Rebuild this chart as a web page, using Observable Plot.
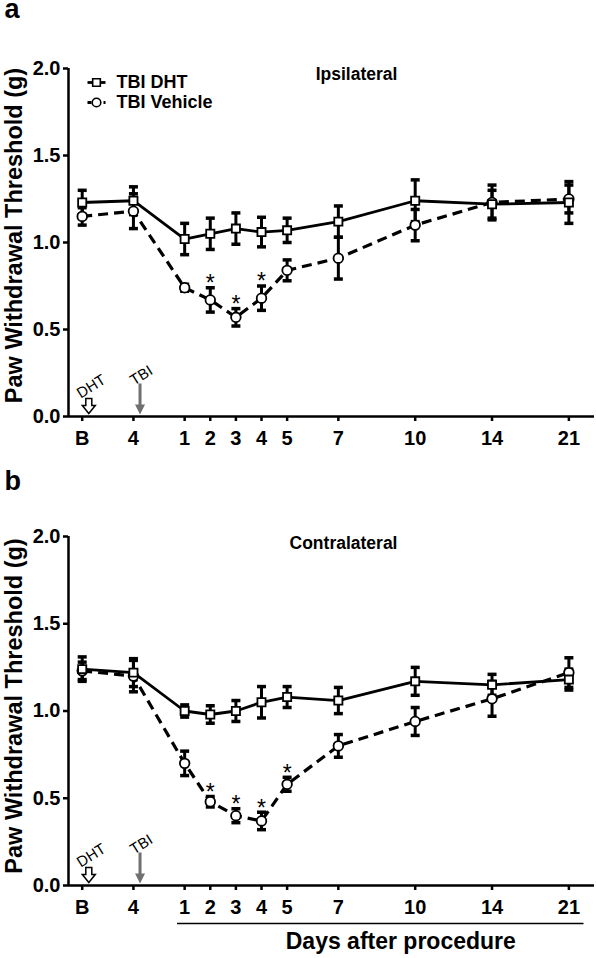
<!DOCTYPE html>
<html><head><meta charset="utf-8">
<script src="https://cdn.jsdelivr.net/npm/d3@7"></script>
<script src="https://cdn.jsdelivr.net/npm/@observablehq/plot@0.6"></script>
<style>
body{margin:0;background:#fff;}
#chart{width:596px;}
#chart svg{display:block;}
</style>
</head><body><div id="chart"></div>
<script>
// ---- data ----
const days = ["B","4","1","2","3","4","5","7","10","14","21"];
const dayPos = [0,2,4,5,6,7,8,10,13,16,19];   // axis slot of each day label
const yTicks = [0,0.5,1,1.5,2];

const ipsiDHT    = [1.23,1.24,1.02,1.05,1.08,1.06,1.07,1.12,1.24,1.22,1.23];
const ipsiDHTErr = [0.07,0.08,0.09,0.09,0.09,0.085,0.07,0.09,0.12,0.08,0.12];
const ipsiVeh    = [1.15,1.18,0.74,0.67,0.57,0.68,0.84,0.91,1.10,1.23,1.25];
const ipsiVehErr = [0.05,0.10,0.02,0.07,0.05,0.07,0.06,0.12,0.09,0.10,0.08];
const ipsiSig    = [0,0,0,1,1,1,0,0,0,0,0];

const contDHT    = [1.24,1.22,1.00,0.98,1.00,1.05,1.08,1.06,1.17,1.15,1.18];
const contDHTErr = [0.07,0.08,0.035,0.05,0.06,0.09,0.06,0.075,0.08,0.06,0.06];
const contVeh    = [1.23,1.20,0.70,0.48,0.40,0.37,0.58,0.80,0.94,1.07,1.22];
const contVehErr = [0.05,0.09,0.07,0.03,0.04,0.05,0.04,0.065,0.08,0.10,0.085];
const contSig    = [0,0,0,1,1,1,1,0,0,0,0];

const seriesNames = ["TBI DHT","TBI Vehicle"];
const yLabel = "Paw Withdrawal Threshold (g)";
const xLabel = "Days after procedure";

// ---- helpers ----
const FONT = "Liberation Sans, Arial, Helvetica, sans-serif";
const xDomain = [-0.535, 20.0];

function hline(hw){ return {draw(ctx){ ctx.moveTo(-hw,0); ctx.lineTo(hw,0); }}; }
function poly(pts){ return {draw(ctx){ ctx.moveTo(pts[0][0],pts[0][1]); for(const p of pts.slice(1)) ctx.lineTo(p[0],p[1]); ctx.closePath(); }}; }
const capSym = hline(4.5);
const openArrow = poly([[0,0],[-6.5,-8],[-3,-8],[-3,-15],[3,-15],[3,-8],[6.5,-8]]);
const grayArrow = poly([[0,0],[-5,-10],[-1.5,-10],[-1.5,-31],[1.5,-31],[1.5,-10],[5,-10]]);

function rows(m, e, sig){ return days.map((d,i)=>({x:dayPos[i], m:m[i], e:e[i], s:sig?sig[i]:0})); }

function panel(o){
  const dht = rows(o.dht, o.dhtErr);
  const veh = rows(o.veh, o.vehErr, o.sig);
  const marks = [
    Plot.ruleY([0], {strokeWidth:2.5}),
    Plot.ruleX([xDomain[0]], {strokeWidth:2.5}),
    Plot.axisX({ticks:dayPos, tickFormat:d=>days[dayPos.indexOf(d)], tickSize:5, tickPadding:9,
      fontSize:20, fontWeight:"bold", strokeWidth:2.5, label:null}),
    Plot.axisY({ticks:yTicks, tickFormat:d3.format(".1f"), tickSize:5, tickPadding:3,
      fontSize:20, fontWeight:"bold", strokeWidth:2.5, label:null}),
    // error bars
    Plot.ruleX(veh, {x:"x", y1:d=>d.m-d.e, y2:d=>d.m+d.e, strokeWidth:3}),
    Plot.dot(veh, {x:"x", y:d=>d.m+d.e, symbol:capSym, r:1, stroke:"black", fill:"none", strokeWidth:3.5}),
    Plot.dot(veh, {x:"x", y:d=>d.m-d.e, symbol:capSym, r:1, stroke:"black", fill:"none", strokeWidth:3.5}),
    Plot.ruleX(dht, {x:"x", y1:d=>d.m-d.e, y2:d=>d.m+d.e, strokeWidth:3}),
    Plot.dot(dht, {x:"x", y:d=>d.m+d.e, symbol:capSym, r:1, stroke:"black", fill:"none", strokeWidth:3.5}),
    Plot.dot(dht, {x:"x", y:d=>d.m-d.e, symbol:capSym, r:1, stroke:"black", fill:"none", strokeWidth:3.5}),
    // lines
    Plot.line(veh, {x:"x", y:"m", strokeWidth:3.2, strokeDasharray:"10,6", strokeLinecap:"butt"}),
    Plot.line(dht, {x:"x", y:"m", strokeWidth:2.8}),
    // markers
    Plot.dot(veh, {x:"x", y:"m", r:4.8, fill:"white", stroke:"black", strokeWidth:1.8}),
    Plot.dot(dht, {x:"x", y:"m", symbol:"square", r:4.6, fill:"white", stroke:"black", strokeWidth:1.8}),
    // significance stars
    Plot.text(veh.filter(d=>d.s), {x:"x", y:d=>d.m+d.e, text:()=>"*", dy:-4, fontSize:23, fontWeight:"normal"}),
    // panel title
    Plot.text([o.title], {frameAnchor:"top", dx:o.titleDx, dy:o.titleDy, textAnchor:"middle", fontSize:17.5, fontWeight:"bold"}),
    // panel letter
    Plot.text([o.letter], {frameAnchor:"top-left", dx:-64, dy:o.letterDy, textAnchor:"start", lineAnchor:"top", fontSize:27, fontWeight:"bold"}),
    // y label
    Plot.text([yLabel], {frameAnchor:"left", rotate:-90, dx:-54, dy:o.ylabDy, textAnchor:"middle", lineAnchor:"middle", fontSize:23.5, fontWeight:"bold"}),
    // procedure arrows
    Plot.dot([0], {x:[dayPos[0]], frameAnchor:"bottom", dx:6.6, dy:-3, symbol:openArrow, r:1, fill:"white", stroke:"black", strokeWidth:1.5}),
    Plot.dot([0], {x:[dayPos[1]], frameAnchor:"bottom", dx:6.6, dy:-2, symbol:grayArrow, r:1, fill:"#707070", stroke:"none"}),
    Plot.text(["DHT"], {x:[dayPos[0]], frameAnchor:"bottom", dx:9, dy:-30, rotate:-32, textAnchor:"middle", lineAnchor:"middle", fontSize:15, fontWeight:"normal"}),
    Plot.text(["TBI"], {x:[dayPos[1]], frameAnchor:"bottom", dx:8, dy:-41, rotate:-32, textAnchor:"middle", lineAnchor:"middle", fontSize:15, fontWeight:"normal"})
  ];
  if (o.legend) {
    marks.push(
      Plot.dot([0], {frameAnchor:"top-left", dx:28, dy:14, symbol:hline(9), r:1, stroke:"black", strokeWidth:2.8}),
      Plot.dot([0], {frameAnchor:"top-left", dx:28, dy:14, symbol:"square", r:4.3, fill:"white", stroke:"black", strokeWidth:1.6}),
      Plot.dot([0], {frameAnchor:"top-left", dx:28, dy:34, symbol:hline(9), r:1, stroke:"black", strokeWidth:2.8, strokeDasharray:"4,4"}),
      Plot.dot([0], {frameAnchor:"top-left", dx:28, dy:34, r:4.3, fill:"white", stroke:"black", strokeWidth:1.6}),
      Plot.text([seriesNames[0]], {frameAnchor:"top-left", dx:48, dy:14, textAnchor:"start", lineAnchor:"middle", fontSize:18, fontWeight:"bold"}),
      Plot.text([seriesNames[1]], {frameAnchor:"top-left", dx:48, dy:34, textAnchor:"start", lineAnchor:"middle", fontSize:18, fontWeight:"bold"})
    );
  }
  if (o.xLabel) {
    marks.push(
      Plot.ruleY([0], {x1:dayPos[2]-0.28, x2:dayPos[10]+0.59, dy:38, strokeWidth:1.5}),
      Plot.text([xLabel], {x:[(dayPos[2]+dayPos[10])/2], frameAnchor:"bottom", dx:24, dy:56, textAnchor:"middle", lineAnchor:"middle", fontSize:23, fontWeight:"bold"})
    );
  }
  return Plot.plot({
    width:596, height:o.height,
    marginTop:o.marginTop, marginBottom:o.marginBottom, marginLeft:68, marginRight:2,
    style:{fontFamily:FONT, fontWeight:"bold", color:"black", background:"white"},
    x:{domain:xDomain},
    y:{domain:[0,2]},
    marks
  });
}

const root = document.getElementById("chart");
root.append(panel({letter:"a", title:"Ipsilateral", titleDx:25, titleDy:-1, letterDy:-70, ylabDy:-7,
  dht:ipsiDHT, dhtErr:ipsiDHTErr, veh:ipsiVeh, vehErr:ipsiVehErr, sig:ipsiSig,
  height:462, marginTop:68, marginBottom:46, legend:true}));
root.append(panel({letter:"b", title:"Contralateral", titleDx:12, titleDy:0, letterDy:-66, ylabDy:-5,
  dht:contDHT, dhtErr:contDHTErr, veh:contVeh, vehErr:contVehErr, sig:contSig,
  height:496, marginTop:74, marginBottom:73, xLabel:true}));
</script>
</body></html>
